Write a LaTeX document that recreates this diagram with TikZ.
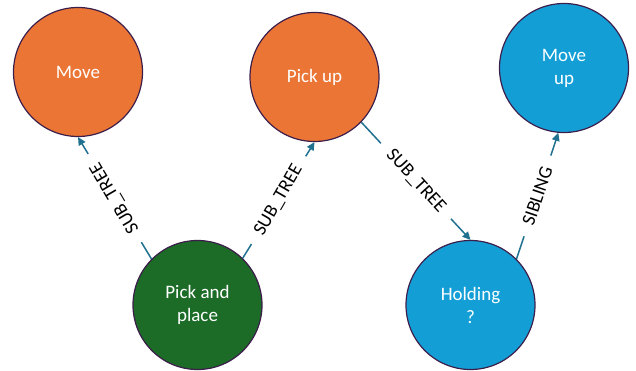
\documentclass[tikz,border=0pt]{standalone}
\usepackage{fontspec}
\setmainfont{Carlito}
\usetikzlibrary{arrows.meta}
\definecolor{orangeC}{HTML}{EB7535}
\definecolor{blueC}{HTML}{139FD6}
\definecolor{greenC}{HTML}{1C6B27}
\definecolor{edgeC}{HTML}{20708F}
\definecolor{borderC}{HTML}{3C1E4B}
\begin{document}
\begin{tikzpicture}[x=1pt,y=1pt,
  stnode/.style={circle,draw=borderC,line width=1.2pt,minimum size=129pt,inner sep=0pt,
    text=white,align=center,font=\fontsize{19}{23}\selectfont},
  rel/.style={draw=edgeC,line width=1.5pt,-{Triangle[length=8pt,width=7.5pt]}},
  rellabel/.style={fill=white,inner xsep=12pt,inner ysep=1pt,text=black,
    font=\fontsize{19}{22}\selectfont}
]
\useasboundingbox (0,0) rectangle (636,370);
\node[stnode,fill=orangeC] (move) at (78,298) {Move};
\node[stnode,fill=orangeC] (pickup) at (314.5,293) {Pick up};
\node[stnode,fill=blueC] (moveup) at (564,302) {Move\\up};
\node[stnode,fill=greenC] (pnp) at (197.5,65) {Pick and\\place};
\node[stnode,fill=blueC] (holding) at (470.5,65) {Holding\\?};

\draw[rel] (pnp.135) -- node[rellabel,rotate=120.6] {SUB\_TREE} (move.270);
\draw[rel] (pnp.46) -- node[rellabel,rotate=60] {SUB\_TREE} (pickup.270);
\draw[rel] (pickup.316) -- node[rellabel,rotate=-47.5] {SUB\_TREE} (holding.90);
\draw[rel] (holding.45) -- node[rellabel,rotate=71.3] {SIBLING} (moveup.265);
\end{tikzpicture}
\end{document}
